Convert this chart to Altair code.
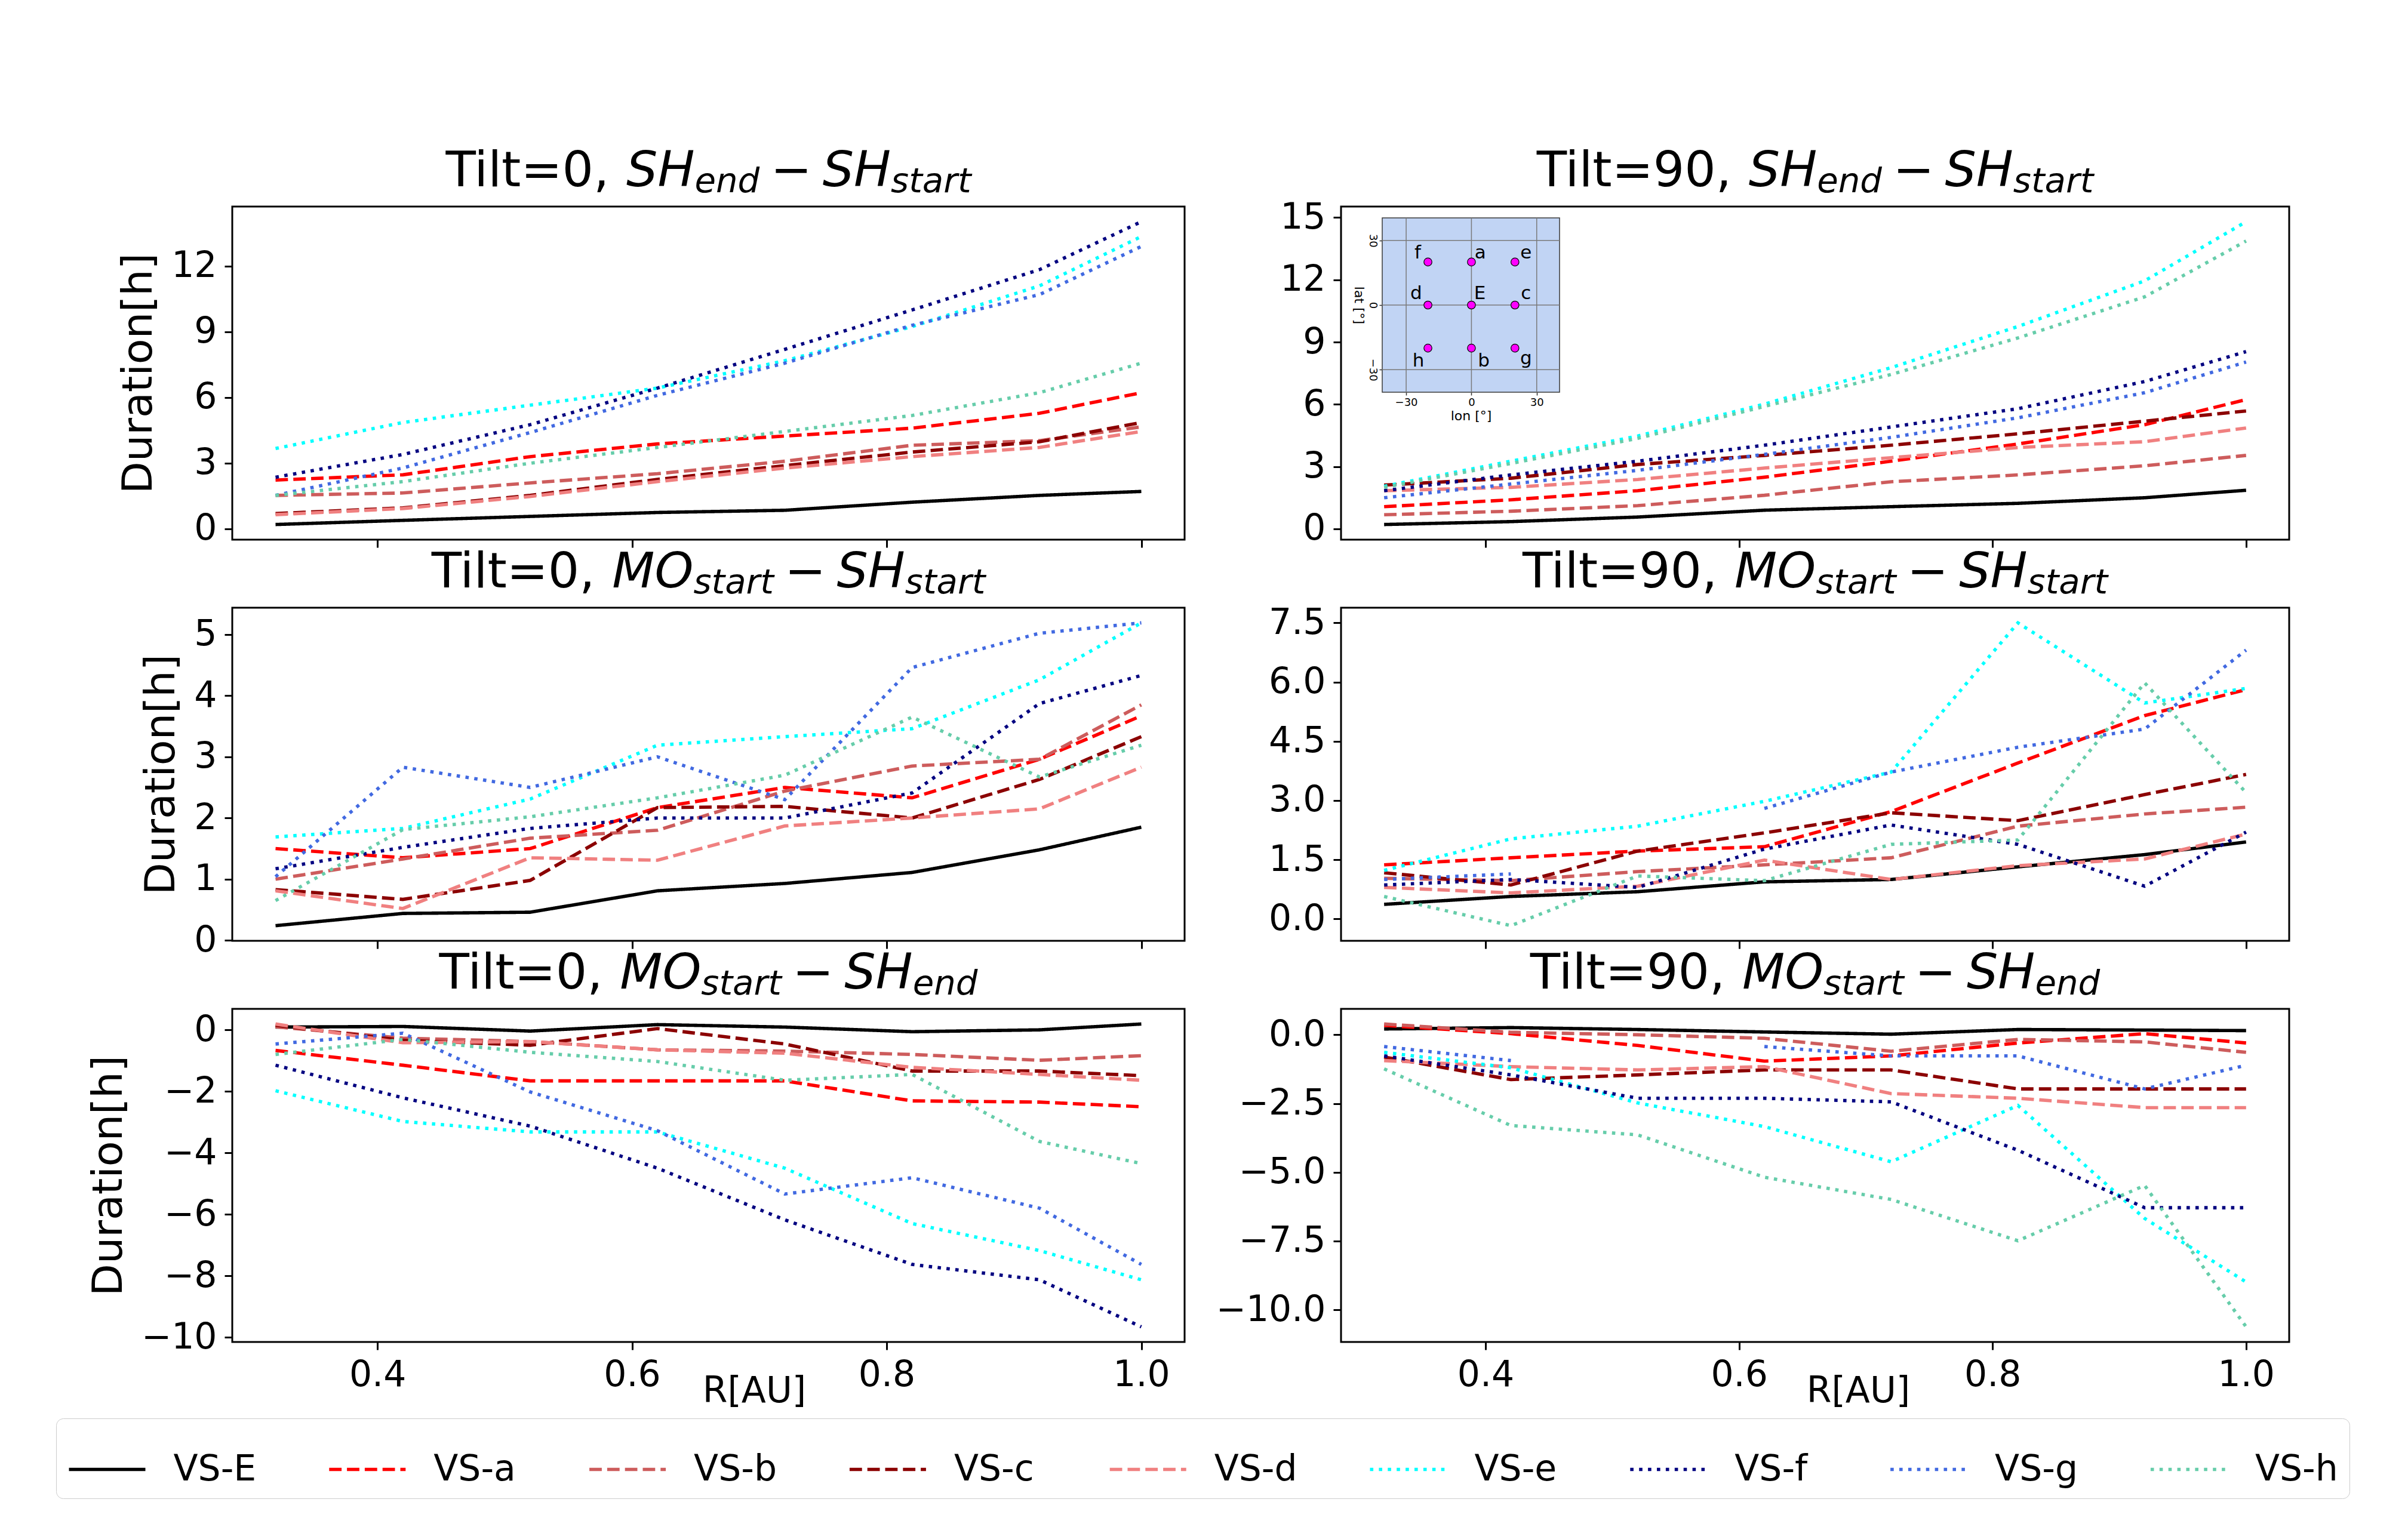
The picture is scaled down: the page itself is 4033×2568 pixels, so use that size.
import math
import altair as alt
import pandas as pd

# ---------------- data ----------------
R = [0.32, 0.42, 0.52, 0.62, 0.72, 0.82, 0.92, 1.0]
SERIES = ["VS-E", "VS-a", "VS-b", "VS-c", "VS-d", "VS-e", "VS-f", "VS-g", "VS-h"]
COLORS = ["#000000", "#ff0000", "#cd5c5c", "#8b0000", "#f08080",
          "#00ffff", "#000080", "#4169e1", "#66cdaa"]
NAN = float("nan")

# rows follow SERIES order
TILT0_SH = [
    [0.20, 0.39, 0.57, 0.75, 0.85, 1.22, 1.53, 1.71],
    [2.23, 2.47, 3.30, 3.88, 4.24, 4.60, 5.28, 6.22],
    [1.53, 1.64, 2.10, 2.52, 3.09, 3.82, 4.03, 4.66],
    [0.70, 0.96, 1.53, 2.26, 2.89, 3.51, 3.98, 4.86],
    [0.65, 0.93, 1.48, 2.16, 2.78, 3.30, 3.72, 4.45],
    [3.67, 4.86, 5.65, 6.43, 7.68, 9.24, 11.10, 13.35],
    [2.36, 3.40, 4.76, 6.43, 8.20, 10.00, 11.84, 14.03],
    [1.53, 2.78, 4.40, 6.10, 7.57, 9.30, 10.70, 12.90],
    [1.53, 2.16, 3.00, 3.72, 4.45, 5.18, 6.22, 7.57],
]
TILT90_SH = [
    [0.21, 0.35, 0.57, 0.90, 1.07, 1.23, 1.50, 1.86],
    [1.07, 1.40, 1.84, 2.49, 3.26, 4.09, 5.02, 6.23],
    [0.68, 0.85, 1.12, 1.62, 2.27, 2.60, 3.04, 3.54],
    [2.11, 2.44, 3.10, 3.54, 4.03, 4.58, 5.19, 5.68],
    [1.84, 2.00, 2.38, 2.93, 3.43, 3.92, 4.20, 4.86],
    [2.05, 3.26, 4.47, 6.01, 7.77, 9.75, 11.95, 14.80],
    [1.84, 2.60, 3.26, 4.03, 4.91, 5.79, 7.10, 8.54],
    [1.50, 2.16, 2.82, 3.59, 4.41, 5.35, 6.56, 8.04],
    [2.00, 3.15, 4.36, 5.90, 7.44, 9.20, 11.18, 13.87],
]
TILT0_MOS = [
    [0.24, 0.44, 0.46, 0.81, 0.93, 1.11, 1.48, 1.85],
    [1.50, 1.35, 1.50, 2.17, 2.50, 2.33, 2.96, 3.67],
    [1.00, 1.33, 1.67, 1.80, 2.44, 2.85, 2.96, 3.85],
    [0.83, 0.67, 0.98, 2.17, 2.19, 2.00, 2.63, 3.33],
    [0.81, 0.52, 1.35, 1.31, 1.87, 2.00, 2.15, 2.83],
    [1.69, 1.83, 2.31, 3.19, 3.33, 3.46, 4.26, 5.19],
    [1.17, 1.52, 1.83, 2.00, 2.00, 2.41, 3.87, 4.33],
    [1.04, 2.83, 2.50, 3.00, 2.30, 4.46, 5.02, 5.19],
    [0.65, 1.81, 2.02, 2.33, 2.70, 3.65, 2.67, 3.19],
]
TILT90_MOS = [
    [0.37, 0.57, 0.69, 0.94, 1.00, 1.32, 1.63, 1.95],
    [1.37, 1.55, 1.72, 1.83, 2.72, 3.95, 5.15, 5.81],
    [1.03, 0.97, 1.20, 1.37, 1.55, 2.35, 2.66, 2.83],
    [1.17, 0.86, 1.72, 2.18, 2.69, 2.49, 3.15, 3.66],
    [0.80, 0.66, 0.83, 1.49, 1.00, 1.35, 1.52, 2.15],
    [1.23, 2.03, 2.35, 2.98, 3.72, 7.50, 5.47, 5.84],
    [0.86, 1.00, 0.80, 1.77, 2.38, 1.89, 0.83, 2.20],
    [1.00, 1.14, NAN, 2.80, 3.72, 4.35, 4.81, 6.81],
    [0.57, -0.17, 1.09, 0.97, 1.89, 2.00, 5.98, 3.20],
]
TILT0_MOE = [
    [0.09, 0.11, -0.04, 0.17, 0.09, -0.06, 0.00, 0.19],
    [-0.67, -1.15, -1.66, -1.66, -1.66, -2.31, -2.35, -2.50],
    [0.10, -0.27, -0.38, -0.65, -0.69, -0.80, -0.99, -0.84],
    [0.15, -0.34, -0.50, 0.04, -0.46, -1.34, -1.34, -1.49],
    [0.19, -0.42, -0.38, -0.65, -0.76, -1.22, -1.45, -1.64],
    [-1.98, -2.98, -3.32, -3.32, -4.50, -6.30, -7.18, -8.13],
    [-1.15, -2.21, -3.13, -4.50, -6.18, -7.63, -8.13, -9.66],
    [-0.46, -0.11, -2.02, -3.28, -5.34, -4.81, -5.80, -7.63],
    [-0.80, -0.31, -0.73, -1.03, -1.64, -1.45, -3.63, -4.35],
]
TILT90_MOE = [
    [0.21, 0.26, 0.19, 0.10, 0.02, 0.19, 0.17, 0.15],
    [0.34, 0.04, -0.39, -0.96, -0.77, -0.30, 0.04, -0.30],
    [0.39, 0.09, 0.00, -0.13, -0.60, -0.17, -0.26, -0.64],
    [-0.81, -1.63, -1.46, -1.28, -1.28, -1.97, -1.97, -1.97],
    [-0.94, -1.16, -1.28, -1.16, -2.14, -2.31, -2.65, -2.65],
    [-0.64, -1.20, -2.48, -3.34, -4.62, -2.57, -6.68, -8.99],
    [-0.77, -1.46, -2.31, -2.31, -2.44, -4.20, -6.29, -6.29],
    [-0.43, -0.94, NAN, -0.43, -0.77, -0.77, -1.97, -1.11],
    [-1.24, -3.30, -3.64, -5.18, -5.99, -7.49, -5.48, -10.62],
]

Y_TICKS = {
    "t0sh": [0, 3, 6, 9, 12],
    "t90sh": [0, 3, 6, 9, 12, 15],
    "t0mos": [0, 1, 2, 3, 4, 5],
    "t90mos": [0.0, 1.5, 3.0, 4.5, 6.0, 7.5],
    "t0moe": [0, -2, -4, -6, -8, -10],
    "t90moe": [0.0, -2.5, -5.0, -7.5, -10.0],
}
X_TICKS = [0.4, 0.6, 0.8, 1.0]

# inset map (virtual spacecraft positions)
ST_NAME = ["f", "a", "e", "d", "E", "c", "h", "b", "g"]
ST_LON = [-20, 0, 20, -20, 0, 20, -20, 0, 20]
ST_LAT = [20, 20, 20, 0, 0, 0, -20, -20, -20]
ST_LABEL_LON = [-24.7, 4.1, 25.1, -25.4, 3.9, 25.1, -24.4, 5.7, 25.1]
ST_LABEL_LAT = [21.7, 21.7, 21.7, 2.9, 2.9, 2.9, -28.6, -28.6, -27.6]
INSET_GRID = [-30, 0, 30]

# ---------------- style ----------------
FONT = "DejaVu Sans"
LW = 5.6
DASHES = [[1, 0]] + [[20.8, 9.0]] * 4 + [[5.6, 9.3]] * 4
W_L, W_R, H = 1595, 1588, 558
XDOM = [0.286, 1.034]
TITLE_FS = 82.5
TITLE_BASE = -34

ADV = {'T': 1251, 'i': 569, 'l': 569, 't': 803, '=': 1716, '0': 1303, '9': 1303,
       ',': 651, ' ': 651, 'S': 1300, 'H': 1540, 'M': 1767, 'O': 1612, 'e': 1260,
       'n': 1298, 'd': 1300, 's': 1067, 'a': 1255, 'r': 842, '\u2212': 1716}


def tw(s, size):
    return sum(ADV[c] for c in s) / 2048.0 * size


LEG = alt.Legend(title=None, orient="none", legendX=-295, legendY=2030,
                 direction="horizontal", columns=9, symbolType="stroke",
                 symbolSize=16384, symbolStrokeWidth=LW, labelFontSize=60,
                 labelFont=FONT, labelColor="black", labelOffset=44,
                 columnPadding=109.8, padding=18.5, strokeColor="#cccccc",
                 fillColor="white", cornerRadius=12, gridAlign="all",
                 labelLimit=400)


def title_layers(prefix, a1, s1, a2, s2, width):
    fs = TITLE_FS
    sub = 0.7 * fs
    sp = 0.22 * fs
    pieces = []  # (text, width, style)
    pieces.append((prefix, tw(prefix, fs), "rm"))
    pieces.append((a1, tw(a1, fs), "it"))
    pieces.append((s1, tw(s1, sub), "sub"))
    pieces.append(("\u2212", tw("\u2212", fs) + 2 * sp, "op"))
    pieces.append((a2, tw(a2, fs), "it"))
    pieces.append((s2, tw(s2, sub), "sub"))
    total = sum(p[1] for p in pieces)
    x = width / 2.0 - total / 2.0
    layers = []
    one = alt.Data(values=[{"k": 1}])
    for txt, w, st in pieces:
        if st == "rm":
            m = alt.Chart(one).mark_text(text=txt, font=FONT, fontSize=fs, align="left",
                                         baseline="alphabetic", color="black")
            layers.append(m.encode(x=alt.value(x), y=alt.value(TITLE_BASE)))
        elif st == "it":
            m = alt.Chart(one).mark_text(text=txt, font=FONT, fontSize=fs, fontStyle="italic",
                                         align="left", baseline="alphabetic", color="black")
            layers.append(m.encode(x=alt.value(x), y=alt.value(TITLE_BASE)))
        elif st == "sub":
            m = alt.Chart(one).mark_text(text=txt, font=FONT, fontSize=sub, fontStyle="italic",
                                         align="left", baseline="alphabetic", color="black")
            layers.append(m.encode(x=alt.value(x), y=alt.value(TITLE_BASE + 10)))
        else:
            m = alt.Chart(one).mark_text(text=txt, font=FONT, fontSize=fs, align="left",
                                         baseline="alphabetic", color="black")
            layers.append(m.encode(x=alt.value(x + sp), y=alt.value(TITLE_BASE)))
        x += w
    return layers


def long_df(vals):
    rows = []
    for s, ys in zip(SERIES, vals):
        for r, v in zip(R, ys):
            rows.append({"R": r, "series": s, "v": v})
    return pd.DataFrame(rows)


def ydomain(vals):
    flat = [v for row in vals for v in row if not math.isnan(v)]
    lo, hi = min(flat), max(flat)
    m = 0.05 * (hi - lo)
    return [lo - m, hi + m]


def lines_chart(vals, key, width, bottom_row, left_col):
    df = long_df(vals)
    xaxis = alt.Axis(values=X_TICKS, format=".1f", labels=bottom_row,
                     title="R[AU]" if bottom_row else None,
                     titleX=874 if left_col else 866, titleY=100,
                     titleAlign="center", titleBaseline="alphabetic",
                     titleFontSize=60)
    fmt = ".1f" if key in ("t90mos", "t90moe") else "d"
    yaxis = alt.Axis(values=Y_TICKS[key], format=fmt,
                     title="Duration[h]" if left_col else None,
                     titleFontSize=70, titlePadding=18)
    return alt.Chart(df).mark_line(strokeWidth=LW, invalid="break-paths-show-domains").encode(
        x=alt.X("R:Q", scale=alt.Scale(domain=XDOM, nice=False, zero=False), axis=xaxis),
        y=alt.Y("v:Q", scale=alt.Scale(domain=ydomain(vals), nice=False, zero=False), axis=yaxis),
        color=alt.Color("series:N", scale=alt.Scale(domain=SERIES, range=COLORS), legend=LEG),
        strokeDash=alt.StrokeDash("series:N", scale=alt.Scale(domain=SERIES, range=DASHES), legend=LEG),
    ).properties(width=width, height=H)


def inset_chart():
    IX0, IX1 = 69, 366
    IY0, IY1 = 19, 311
    ldom = [-41, 40.5]
    bdom = [-40.5, 40.5]
    xs = alt.Scale(domain=ldom, range=[IX0, IX1], nice=False, zero=False)
    ys = alt.Scale(domain=bdom, range=[IY1, IY0], nice=False, zero=False)
    xax = alt.Axis(orient="bottom", offset=-(H - IY1), values=INSET_GRID, format="d",
                   domain=False, tickSize=5, tickWidth=1.5, tickColor="#333333",
                   labelFontSize=18, labelPadding=3, title="lon [°]",
                   titleFontSize=22, titlePadding=3, grid=False)
    yax = alt.Axis(orient="left", offset=-IX0, values=INSET_GRID, format="d",
                   domain=False, tickSize=5, tickWidth=1.5, tickColor="#333333",
                   labelFontSize=18, labelPadding=3, labelAngle=90, labelAlign="center",
                   labelBaseline="top", title="lat [°]", titleAngle=90,
                   titleBaseline="top", titleFontSize=22, titlePadding=4, grid=False)
    bgdata = alt.Data(values=[{"x0": ldom[0], "x1": ldom[1], "y0": bdom[0], "y1": bdom[1]}])
    bg = alt.Chart(bgdata).mark_rect(fill="#c1d4f4", stroke="#3a3a3a", strokeWidth=1.5).encode(
        x=alt.X("x0:Q", scale=xs, axis=xax), x2="x1:Q",
        y=alt.Y("y0:Q", scale=ys, axis=yax), y2="y1:Q")
    gdf = pd.DataFrame({"g": INSET_GRID, "lo": [bdom[0]] * 3, "hi": [bdom[1]] * 3,
                        "llo": [ldom[0]] * 3, "lhi": [ldom[1]] * 3})
    gv = alt.Chart(gdf).mark_rule(color="#7a7a7a", strokeWidth=1.5).encode(
        x=alt.X("g:Q", scale=xs), y=alt.Y("lo:Q", scale=ys), y2="hi:Q")
    gh = alt.Chart(gdf).mark_rule(color="#7a7a7a", strokeWidth=1.5).encode(
        y=alt.Y("g:Q", scale=ys), x=alt.X("llo:Q", scale=xs), x2="lhi:Q")
    sdf = pd.DataFrame({"name": ST_NAME, "lon": ST_LON, "lat": ST_LAT,
                        "llon": ST_LABEL_LON, "llat": ST_LABEL_LAT})
    pts = alt.Chart(sdf).mark_point(shape="circle", filled=True, size=180, fill="#ff00ff",
                                    stroke="black", strokeWidth=1.2, opacity=1).encode(
        x=alt.X("lon:Q", scale=xs), y=alt.Y("lat:Q", scale=ys))
    lbl = alt.Chart(sdf).mark_text(font=FONT, fontSize=31, color="black", align="center",
                                   baseline="alphabetic").encode(
        x=alt.X("llon:Q", scale=xs), y=alt.Y("llat:Q", scale=ys), text="name:N")
    return alt.layer(bg, gv, gh, pts, lbl)


PANELS = [
    ("t0sh", TILT0_SH, ("Tilt=0, ", "SH", "end", "SH", "start")),
    ("t90sh", TILT90_SH, ("Tilt=90, ", "SH", "end", "SH", "start")),
    ("t0mos", TILT0_MOS, ("Tilt=0, ", "MO", "start", "SH", "start")),
    ("t90mos", TILT90_MOS, ("Tilt=90, ", "MO", "start", "SH", "start")),
    ("t0moe", TILT0_MOE, ("Tilt=0, ", "MO", "start", "SH", "end")),
    ("t90moe", TILT90_MOE, ("Tilt=90, ", "MO", "start", "SH", "end")),
]

charts = []
for i, (key, vals, tparts) in enumerate(PANELS):
    left = (i % 2 == 0)
    bottom = (i >= 4)
    width = W_L if left else W_R
    base = lines_chart(vals, key, width, bottom, left)
    tl = title_layers(*tparts, width)
    if key == "t90sh":
        c = alt.layer(base, inset_chart(), *tl).resolve_scale(x="independent", y="independent")
    else:
        c = alt.layer(base, *tl)
    charts.append(c.properties(width=width, height=H))

chart = alt.concat(*charts, columns=2, spacing={"row": 114, "column": 262},
                   bounds="flush").properties(
    padding={"left": 85, "top": 236, "right": 5, "bottom": 5}
).configure(font=FONT).configure_view(
    stroke="black", strokeWidth=3
).configure_axis(
    domain=False, grid=False, ticks=True, tickSize=13, tickWidth=3, tickColor="black",
    labelFontSize=60, labelFont=FONT, labelColor="black", labelPadding=13,
    titleFont=FONT, titleFontWeight="normal", titleColor="black",
    labelFlush=False, labelOverlap=False, labelLimit=400
)

chart.save("out.html", embed_options={"renderer": "svg", "actions": False})
